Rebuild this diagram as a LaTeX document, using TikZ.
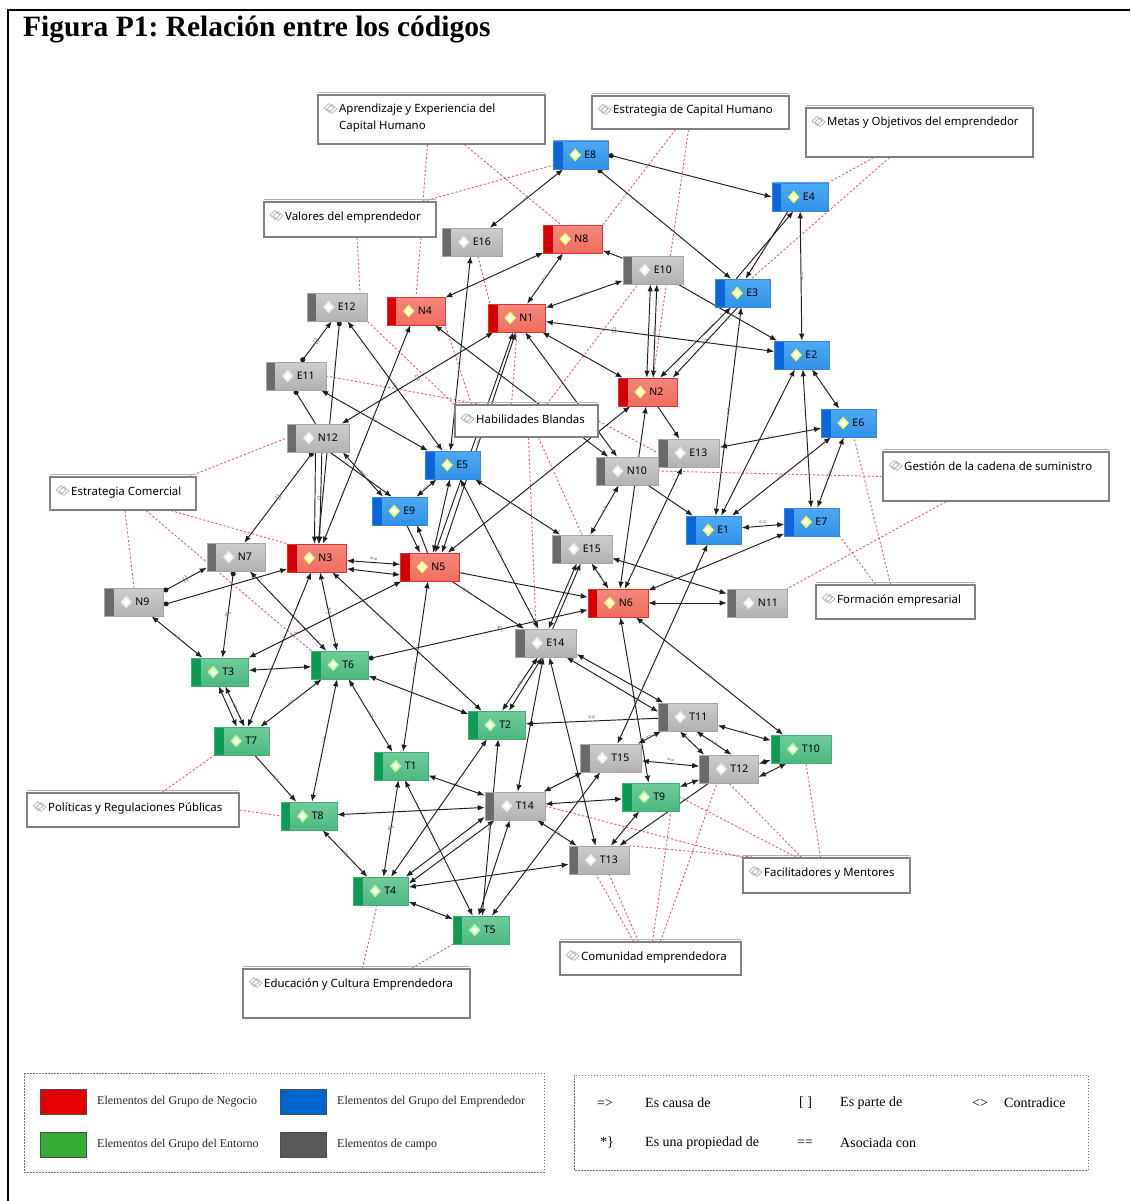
\documentclass[tikz,border=0pt]{standalone}
\usepackage{fontspec}
\setmainfont{Liberation Serif}
\newfontfamily\nsans{Noto Sans}
\usetikzlibrary{arrows.meta,shapes.geometric}
\pgfdeclarelayer{bgZ}
\pgfdeclarelayer{bgA}
\pgfdeclarelayer{bgB}
\pgfsetlayers{bgZ,bgA,bgB,main}
\frenchspacing
\definecolor{negS}{HTML}{D50000}
\definecolor{negT}{HTML}{F4887C}
\definecolor{negB}{HTML}{EE6E5E}
\definecolor{empS}{HTML}{0A66DA}
\definecolor{empT}{HTML}{4EAAF2}
\definecolor{empB}{HTML}{3292E6}
\definecolor{camS}{HTML}{6A6A6A}
\definecolor{camT}{HTML}{CDCDCD}
\definecolor{camB}{HTML}{B2B2B2}
\definecolor{entS}{HTML}{0E9B57}
\definecolor{entT}{HTML}{70CC9B}
\definecolor{entB}{HTML}{4DB881}
\definecolor{dred}{HTML}{E8587A}
\newcommand\cdfont{\nsans\fontsize{10.5}{12}\selectfont}
\newcommand\grfont{\nsans\fontsize{11.4}{13}\selectfont}
\newcommand\edfont{\nsans\fontsize{6.5}{7}\selectfont}
\tikzset{
  cbox/.style={rectangle, minimum height=28pt, inner sep=0pt},
  stripe/.style={path picture={\fill[#1] (path picture bounding box.north west) rectangle ([xshift=9pt]path picture bounding box.south west);}},
  neg/.style={cbox, top color=negT, bottom color=negB, draw=negS!80, line width=0.6pt, stripe=negS},
  emp/.style={cbox, top color=empT, bottom color=empB, draw=empS!80, line width=0.6pt, stripe=empS},
  cam/.style={cbox, top color=camT, bottom color=camB, draw=camS!60, line width=0.6pt, stripe=camS},
  ent/.style={cbox, top color=entT, bottom color=entB, draw=entS!80, line width=0.6pt, stripe=entS},
  icon/.style={diamond, fill=white, draw=#1, line width=1.6pt, inner sep=0pt, minimum width=10pt, minimum height=11pt},
  ico-neg/.style={icon=lime!45!yellow!60},
  ico-emp/.style={icon=lime!45!yellow!60},
  ico-ent/.style={icon=lime!40!green!40},
  ico-cam/.style={icon=white!85!gray},
  gbox/.style={draw=black!50, line width=1.2pt, fill=white, inner sep=0pt},
  gico/.style={diamond, draw=gray!70, line width=0.6pt, inner sep=0pt, minimum width=10pt, minimum height=9pt},
  dl/.style={draw=dred, line width=0.9pt, dash pattern=on 2.2pt off 2pt},
  ed/.style={draw=black!88, line width=0.95pt},
  bb/.style={ed, {Latex[length=7pt,width=5.5pt]}-{Latex[length=7pt,width=5.5pt]}},
  ar/.style={ed, -{Latex[length=7pt,width=5.5pt]}},
  da/.style={ed, {Circle[length=5pt]}-{Latex[length=7pt,width=5.5pt]}},
  dn/.style={ed, {Circle[length=5pt]}-},
  el/.style={font=\edfont, text=black!60, sloped, inner sep=1pt},
  lg/.style={anchor=west, inner sep=0pt, font=\fontsize{12}{14}\selectfont, text=black!85},
  lr/.style={anchor=west, inner sep=0pt, font=\fontsize{14}{16}\selectfont},
}
\newcommand\cnd[6]{%
  \node[#5, minimum width=#6pt] (#1) at (#2,#3) {};
  \node[ico-#5] at ([xshift=22pt]#1.west) {};
  \node[anchor=west, font=\cdfont, inner sep=0pt] at ([xshift=31pt]#1.west) {#4};
}
\newcommand\gbx[6]{%
  \draw[black!30, line width=0.8pt] (#2,#3-3) -- (#4,#3-3);
  \node[gbox, minimum width={#4pt-#2pt}, minimum height={#5pt-#3pt}] (#1) at ({(#2+#4)/2},{(#3+#5)/2}) {};
  \node[gico] at (#2+11,#3+13) {};
  \node[gico] at (#2+14,#3+14) {};
  \node[anchor=base west, font=\grfont, inner sep=0pt] at (#2+21,#3+18) {#6};
}
\begin{document}
\begin{tikzpicture}[x=1pt,y=-1pt]
\useasboundingbox (0,0) rectangle (1130,1201);
\begin{pgfonlayer}{bgZ}
\fill[white] (0,0) rectangle (1130,1201);
\end{pgfonlayer}
\draw[line width=1.6pt] (8,1201) -- (8,10) -- (1130,10);
\node[anchor=base west, inner sep=0pt, font=\fontsize{29.5}{32}\selectfont\bfseries] (title) at (23,37) {Figura P1: Relación entre los códigos};

% code groups
\gbx{G1}{318}{95}{545}{144}{Aprendizaje y Experiencia del}
\node[anchor=base west, font=\grfont, inner sep=0pt] (G1b) at (339,130) {Capital Humano};
\gbx{G2}{592}{96}{789}{129}{Estrategia de Capital Humano}
\gbx{G3}{806}{108}{1033}{157}{Metas y Objetivos del emprendedor}
\gbx{G4}{264}{202}{436}{237}{Valores del emprendedor}
\gbx{G5}{455}{405}{598}{437}{Habilidades Blandas}
\gbx{G6}{50}{477}{196}{510}{Estrategia Comercial}
\gbx{G7}{883}{452}{1109}{501}{Gestión de la cadena de suministro}
\gbx{G8}{816}{585}{975}{619}{Formación empresarial}
\gbx{G9}{27}{793}{239}{827}{Políticas y Regulaciones Públicas}
\gbx{G10}{743}{858}{910}{893}{Facilitadores y Mentores}
\gbx{G11}{560}{942}{741}{975}{Comunidad emprendedora}
\gbx{G12}{243}{969}{470}{1018}{Educación y Cultura Emprendedora}

% codes
\cnd{E8}{581}{155}{E8}{emp}{55}
\cnd{E4}{800}{197}{E4}{emp}{56}
\cnd{E16}{472}{242}{E16}{cam}{60}
\cnd{N8}{573}{239}{N8}{neg}{59}
\cnd{E10}{653}{270}{E10}{cam}{60}
\cnd{E3}{743}{293}{E3}{emp}{55}
\cnd{E12}{337}{307}{E12}{cam}{60}
\cnd{N4}{416}{311}{N4}{neg}{58}
\cnd{N1}{517}{318}{N1}{neg}{57}
\cnd{E2}{802}{355}{E2}{emp}{55}
\cnd{E11}{296}{376}{E11}{cam}{60}
\cnd{N2}{648}{392}{N2}{neg}{59}
\cnd{E6}{849}{423}{E6}{emp}{55}
\cnd{N12}{318}{438}{N12}{cam}{62}
\cnd{E13}{689}{453}{E13}{cam}{61}
\cnd{E5}{453}{465}{E5}{emp}{55}
\cnd{N10}{627}{471}{N10}{cam}{62}
\cnd{E9}{400}{511}{E9}{emp}{55}
\cnd{E7}{812}{522}{E7}{emp}{55}
\cnd{E1}{714}{530}{E1}{emp}{55}
\cnd{E15}{582}{549}{E15}{cam}{60}
\cnd{N7}{236}{557}{N7}{cam}{58}
\cnd{N3}{317}{558}{N3}{neg}{59}
\cnd{N5}{430}{567}{N5}{neg}{59}
\cnd{N6}{618}{603}{N6}{neg}{60}
\cnd{N11}{757}{603}{N11}{cam}{60}
\cnd{N9}{134}{602}{N9}{cam}{59}
\cnd{E14}{546}{643}{E14}{cam}{61}
\cnd{T3}{220}{672}{T3}{ent}{57}
\cnd{T6}{340}{665}{T6}{ent}{57}
\cnd{T2}{497}{725}{T2}{ent}{57}
\cnd{T11}{688}{717}{T11}{cam}{59}
\cnd{T7}{242}{741}{T7}{ent}{55}
\cnd{T10}{801}{749}{T10}{ent}{60}
\cnd{T1}{401}{766}{T1}{ent}{54}
\cnd{T15}{611}{758}{T15}{cam}{61}
\cnd{T12}{729}{769}{T12}{cam}{59}
\cnd{T9}{651}{797}{T9}{ent}{57}
\cnd{T14}{515}{806}{T14}{cam}{60}
\cnd{T8}{309}{816}{T8}{ent}{56}
\cnd{T13}{599}{860}{T13}{cam}{60}
\cnd{T4}{381}{891}{T4}{ent}{55}
\cnd{T5}{481}{930}{T5}{ent}{56}

% dashed member links
\begin{pgfonlayer}{bgA}
\draw[dl] ([xshift=-4pt]G1.south) -- ([xshift=73pt]G4.north);
\draw[dl] ([xshift=33pt]G1.south) -- (N8.130);
\draw[dl] ([xshift=73pt]G4.north) -- (E8.200);
\draw[dl] ([xshift=71pt]G4.south) -- (N4.north);
\draw[dl] ([xshift=7pt]G4.south) -- ([xshift=23pt]E12.north);
\draw[dl] ([xshift=6pt]E16.south) -- ([xshift=-27pt]N1.north);
\draw[dl] ([xshift=-2pt]G2.south) -- ([xshift=5pt]N2.north);
\draw[dl] ([xshift=-15pt]G2.south) -- (N8.north east);
\draw[dl] ([xshift=-46pt]G3.south) -- (E4.north east);
\draw[dl] ([xshift=-30pt]G3.south) -- (E3.60);
\draw[dl] (G5.160) -- (E11.east);
\draw[dl] (G5.north west) -- (E12.south east);
\draw[dl] ([xshift=-55pt]G5.north) -- (N4.south east);
\draw[dl] ([xshift=-15pt]G5.north) -- (N1.south);
\draw[dl] ([xshift=20pt]G5.north) -- ([xshift=-15pt]E10.south);
\draw[dl] (G5.east) -- (E13.west);
\draw[dl] ([xshift=12pt]G5.south) -- (E15.north);
\draw[dl] ([xshift=2pt]G5.south) -- ([xshift=-10pt]E14.north);
\draw[dl] ([xshift=66pt]G6.north) -- (N12.west);
\draw[dl] ([xshift=2pt]G6.south) -- (N9.north);
\draw[dl] ([xshift=48pt]G6.south) -- (N3.north west);
\draw[dl] ([xshift=23pt]G6.south) -- (T6.north west);
\draw[dl] (G7.west) -- (N10.east);
\draw[dl] ([xshift=-50pt]G7.south) -- (N11.north east);
\draw[dl] ([xshift=-5pt]G8.north) -- ([xshift=5pt]E6.south);
\draw[dl] ([xshift=-20pt]G8.north) -- (E7.south east);
\draw[dl] ([xshift=29pt]G9.north) -- (T7.south west);
\draw[dl] (G9.east) -- (T8.west);
\draw[dl] ([xshift=6pt]G12.north) -- ([xshift=-4pt]T4.south);
\draw[dl] ([xshift=55pt]G12.north) -- (T5.south west);
\draw[dl] ([xshift=-17pt]G11.north) -- ([xshift=-3pt]T13.south);
\draw[dl] ([xshift=-12pt]G11.north) -- ([xshift=10pt]T13.south);
\draw[dl] ([xshift=2pt]G11.north) -- ([xshift=20pt]T9.south);
\draw[dl] ([xshift=10pt]G11.north) -- ([xshift=-12pt]T12.south);
\draw[dl] ([xshift=-6pt]G10.north) -- ([xshift=5pt]T10.south);
\draw[dl] (G10.north west) -- (T14.east);
\draw[dl] ([xshift=-70pt]G10.north) -- (T13.north east);
\draw[dl] ([xshift=-30pt]G10.north) -- (T9.east);
\draw[dl] ([xshift=-25pt]G10.north) -- (T12.south);
\end{pgfonlayer}

% relations
\begin{pgfonlayer}{bgB}
\draw[bb] (E8) -- node[el]{=>} (E16);
\draw[da] (E8.east) -- (E4.west);
\draw[da] (E8.-40) -- (E3.130);
\draw[bb] (N8) -- (N4);
\draw[bb] (N8) -- node[el]{=>} (N1);
\draw[ar] (E10) -- (N8);
\draw[bb] (E10) -- node[el]{<>} (N1);
\draw[bb] (E10.260) -- (N2.95);
\draw[bb] (E10.285) -- node[el]{=>} (N2.70);
\draw[bb] (N1) -- node[el, pos=0.3]{[]} (E2);
\draw[bb] (N1) -- (N2);
\draw[ar] (E10) -- node[el]{=>} (E2);
\draw[ar] (E3.115) -- (E4.245);
\draw[ar] (E4.230) -- node[el]{=>} (E3.80);
\draw[bb] (E4) -- node[el]{==} (E2);
\draw[bb] (E3.230) -- (N2.50);
\draw[ar] (E3.250) -- node[el]{=>} (N2.30);
\draw[bb] (E3) -- node[el]{=>} (E1);
\draw[bb] (E2) -- (E1);
\draw[bb] (E2) -- (E7);
\draw[bb] (E2) -- node[el]{=>} (E6);
\draw[bb] (E6) -- node[el]{=>} (E7);
\draw[bb] (E6) -- node[el]{=>} (E1);
\draw[bb] (E13) -- node[el]{=>} (E6);
\draw[ar] (N2) -- (E13);
\draw[bb] (E1) -- node[el, above]{==} (E7);
\draw[ar] (N10) -- (E1);
\draw[bb] (N2) -- (N5);
\draw[bb] (N2) -- node[el, pos=0.3]{=>} (N6);
\draw[bb] (E13) -- node[el]{=>} (N6);
\draw[bb] (N10) -- node[el]{=>} (E15);
\draw[bb] (E15) -- node[el]{=>} (N6);
\draw[bb] (E15) -- node[el]{=>} (N11);
\draw[bb] (N6) -- (N11);
\draw[bb] (E7) -- (N6);
\draw[bb] (E1) -- node[el, pos=0.7]{=>} (T15);
\draw[bb] (N6) -- node[el]{=>} (T9);
\draw[bb] (N6) -- node[el]{=>} (T10);
\draw[ar] (N5) -- (N6);
\draw[da] (T6) -- node[el, pos=0.6]{*\}} (N6);
\draw[ar] (N5) -- node[el, pos=0.2]{=>} (E14);
\draw[bb] (E5) -- node[el]{=>} (E14);
\draw[bb] (E5) -- (E15);
\draw[bb] (E5) -- node[el]{=>} (E9);
\draw[ar] (E9) -- (N5.125);
\draw[ar] (N5.100) -- (E9.-40);
\draw[bb] (E5) -- (N5);
\draw[bb] (E12) -- node[el]{=>} (E5);
\draw[bb] (E11) -- node[el]{=>} (E5);
\draw[bb] (E16) -- (E5.100);
\draw[bb] (N4) -- (N3);
\draw[bb] (N4) -- (N10);
\draw[bb] (N1.-60) -- (N10.125);
\draw[bb] (N1.-105) -- (N5.70);
\draw[bb] (N1.-95) -- node[el]{=>} (N5.50);
\draw[da] (E11.70) -- node[el]{[]} (E12.250);
\draw[da] (E12.-80) -- (N3.85);
\draw[dn] (E11.265) -- (N12.100);
\draw[bb] (N1) -- node[el]{[]} (N12);
\draw[bb] (N12.-30) -- node[el]{==} (E9.140);
\draw[ar] (N12.-50) -- (E9.120);
\draw[da] (N12.-110) -- node[el]{[]} (N7.60);
\draw[ar] (N12.-100) -- (N3.100);
\draw[ar] (N12.-75) -- node[el]{[]} (N3.80);
\draw[bb] (N3.-5) -- node[el, above]{==} (N5.175);
\draw[bb] (N3.-20) -- (N5.195);
\draw[da] (N9.20) -- node[el]{[]} (N7.200);
\draw[da] (N9.-5) -- (N3.200);
\draw[bb] (N9) -- node[el]{=>} (T3);
\draw[da] (N7.-100) -- node[el]{*\}} (T3.80);
\draw[bb] (N7) -- (T6);
\draw[bb] (N3) -- (T7);
\draw[bb] (N3) -- node[el]{*\}} (T6);
\draw[bb] (N3) -- (T2);
\draw[bb] (N5) -- node[el, pos=0.7]{=>} (T3);
\draw[bb] (N5) -- node[el]{==} (T1);
\draw[bb] (T3) -- (T6);
\draw[bb] (T3.-95) -- (T7.110);
\draw[bb] (T3.-70) -- node[el]{<>} (T7.80);
\draw[bb] (T6) -- node[el]{=>} (T7);
\draw[bb] (T6) -- node[el]{=>} (T8);
\draw[bb] (T6) -- node[el]{=>} (T1);
\draw[bb] (T6) -- (T2);
\draw[ar] (T7) -- node[el]{=>} (T8);
\draw[bb] (T8) -- (T14);
\draw[bb] (T1) -- node[el]{=>} (T14);
\draw[bb] (T1.-100) -- node[el]{*\}} (T4.80);
\draw[bb] (T1.-75) -- (T5.120);
\draw[bb] (T8) -- node[el]{=>} (T4);
\draw[bb] (T4) -- node[el]{=>} (T5);
\draw[bb] (T4) -- (T13);
\draw[bb] (T2) -- (T4);
\draw[bb] (T14.200) -- (T4.30);
\draw[bb] (T14.215) -- (T4.15);
\draw[bb] (T2.-85) -- node[el]{==} (T5.85);
\draw[bb] (T14.-110) -- (T5.100);
\draw[bb] (T15) -- (T5);
\draw[bb] (E14.-120) -- node[el]{=>} (T2.70);
\draw[bb] (E14.-105) -- (T2.50);
\draw[bb] (E14) -- (T14);
\draw[bb] (E14) -- (T13);
\draw[bb] (E14.-20) -- (T11.150);
\draw[bb] (E14.-35) -- (T11.170);
\draw[ar] (T11) -- node[el, above]{==} (T2);
\draw[bb] (T11) -- node[el]{=>} (T15);
\draw[bb] (T11) -- node[el]{=>} (T10);
\draw[bb] (T11.-60) -- node[el]{=>} (T12.80);
\draw[bb] (T11.-120) -- (T12.150);
\draw[bb] (T15) -- node[el, above]{==} (T12);
\draw[bb] (T12.10) -- (T10.200);
\draw[bb] (T12.-15) -- (T10.225);
\draw[bb] (T12) -- (T9);
\draw[ar] (T12) -- (T13);
\draw[bb] (T14) -- (T9);
\draw[bb] (T14) -- (T15);
\draw[bb] (T14) -- node[el]{=>} (T13);
\draw[bb] (T9) -- node[el]{=>} (T13);
\draw[bb] (E14.80) -- (E15.-110);
\draw[ar] (E14.65) -- (E15.-95);
\end{pgfonlayer}

% legend
\draw[black!55, line width=0.9pt, dash pattern=on 1.5pt off 1.5pt] (24,1073) rectangle (544,1172);
\node[draw=black!70, fill=red!90!black, minimum width=46pt, minimum height=25pt, inner sep=0pt] (Lr) at (63,1101.5) {};
\node[draw=black!70, fill=blue!50!cyan!80!black, minimum width=46pt, minimum height=25pt, inner sep=0pt] (Lb) at (303.5,1101.5) {};
\node[draw=black!70, fill=green!60!black!80, minimum width=46pt, minimum height=25pt, inner sep=0pt] (Lg) at (63,1144.5) {};
\node[draw=black!70, fill=black!65, minimum width=46pt, minimum height=25pt, inner sep=0pt] (Lk) at (303.5,1144.5) {};
\node[lg] (t1) at (97,1102) {Elementos del Grupo de Negocio};
\node[lg] (t2) at (337,1102) {Elementos del Grupo del Emprendedor};
\node[lg] (t3) at (97,1145) {Elementos del Grupo del Entorno};
\node[lg] (t4) at (337,1145) {Elementos de campo};

\draw[black!55, line width=0.9pt, dash pattern=on 1.5pt off 1.5pt] (574,1075) rectangle (1088,1170);
\node[lr] (r1) at (597,1103) {=>};
\node[lr] (r2) at (645,1103) {Es causa de};
\node[lr] (r3) at (799,1103) {[ ]};
\node[lr] (r4) at (840,1103) {Es parte de};
\node[lr] (r5) at (972,1103) {<>};
\node[lr] (r6) at (1004,1103) {Contradice};
\node[lr] (r7) at (600,1143) {*\}};
\node[lr] (r8) at (645,1143) {Es una propiedad de};
\node[lr] (r9) at (797,1143) {==};
\node[lr] (r10) at (840,1143) {Asociada con};
\end{tikzpicture}
\end{document}
